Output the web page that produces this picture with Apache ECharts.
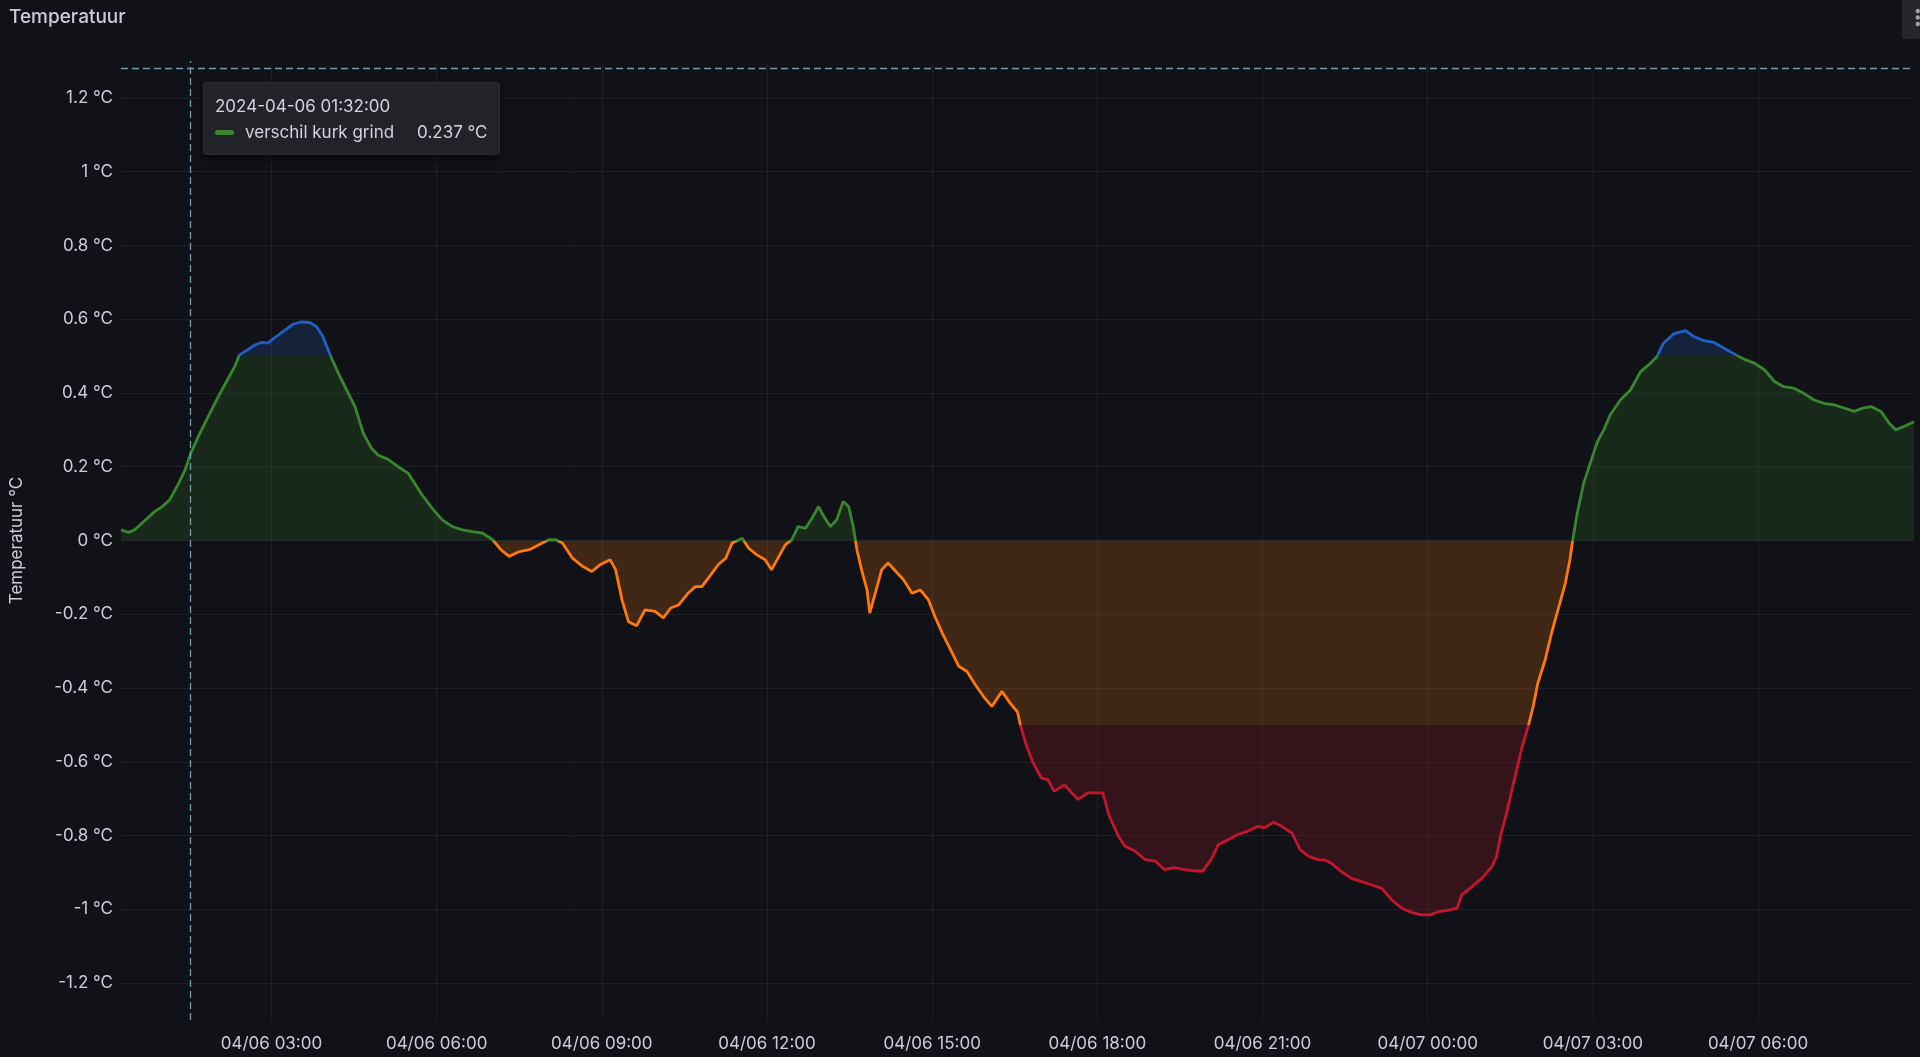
<!DOCTYPE html>
<html>
<head>
<meta charset="utf-8">
<title>Temperatuur</title>
<script src="https://cdn.jsdelivr.net/npm/echarts@6/dist/echarts.min.js"></script>
<style>
  html, body { margin: 0; padding: 0; background: #111217; }
  #container { width: 1920px; height: 1057px; }
</style>
</head>
<body>
<div id="container"></div>
<script>
var seriesName = 'verschil kurk grind';

// time stamps (local) and read-off values of the difference, °C
var times = [
    '2024-04-06 00:16', '2024-04-06 00:24', '2024-04-06 00:31', '2024-04-06 00:42', '2024-04-06 00:53',
    '2024-04-06 01:00', '2024-04-06 01:09', '2024-04-06 01:18', '2024-04-06 01:26', '2024-04-06 01:32',
    '2024-04-06 01:42', '2024-04-06 01:51', '2024-04-06 02:02', '2024-04-06 02:11', '2024-04-06 02:20',
    '2024-04-06 02:25', '2024-04-06 02:31', '2024-04-06 02:42', '2024-04-06 02:49', '2024-04-06 02:56',
    '2024-04-06 03:04', '2024-04-06 03:15', '2024-04-06 03:24', '2024-04-06 03:33', '2024-04-06 03:42',
    '2024-04-06 03:49', '2024-04-06 03:56', '2024-04-06 04:04', '2024-04-06 04:13', '2024-04-06 04:22',
    '2024-04-06 04:31', '2024-04-06 04:40', '2024-04-06 04:49', '2024-04-06 04:56', '2024-04-06 05:07',
    '2024-04-06 05:18', '2024-04-06 05:29', '2024-04-06 05:36', '2024-04-06 05:44', '2024-04-06 05:55',
    '2024-04-06 06:06', '2024-04-06 06:17', '2024-04-06 06:28', '2024-04-06 06:39', '2024-04-06 06:50',
    '2024-04-06 07:01', '2024-04-06 07:10', '2024-04-06 07:19', '2024-04-06 07:30', '2024-04-06 07:41',
    '2024-04-06 07:51', '2024-04-06 08:02', '2024-04-06 08:10', '2024-04-06 08:17', '2024-04-06 08:28',
    '2024-04-06 08:39', '2024-04-06 08:49', '2024-04-06 08:58', '2024-04-06 09:09', '2024-04-06 09:15',
    '2024-04-06 09:22', '2024-04-06 09:29', '2024-04-06 09:38', '2024-04-06 09:47', '2024-04-06 09:58',
    '2024-04-06 10:07', '2024-04-06 10:15', '2024-04-06 10:24', '2024-04-06 10:34', '2024-04-06 10:42',
    '2024-04-06 10:49', '2024-04-06 10:56', '2024-04-06 11:07', '2024-04-06 11:15', '2024-04-06 11:22',
    '2024-04-06 11:33', '2024-04-06 11:40', '2024-04-06 11:49', '2024-04-06 11:58', '2024-04-06 12:05',
    '2024-04-06 12:13', '2024-04-06 12:20', '2024-04-06 12:27', '2024-04-06 12:34', '2024-04-06 12:42',
    '2024-04-06 12:49', '2024-04-06 12:56', '2024-04-06 13:02', '2024-04-06 13:09', '2024-04-06 13:16',
    '2024-04-06 13:23', '2024-04-06 13:29', '2024-04-06 13:34', '2024-04-06 13:38', '2024-04-06 13:43',
    '2024-04-06 13:49', '2024-04-06 13:52', '2024-04-06 13:58', '2024-04-06 14:05', '2024-04-06 14:12',
    '2024-04-06 14:22', '2024-04-06 14:29', '2024-04-06 14:38', '2024-04-06 14:47', '2024-04-06 14:56',
    '2024-04-06 15:03', '2024-04-06 15:11', '2024-04-06 15:20', '2024-04-06 15:29', '2024-04-06 15:38',
    '2024-04-06 15:47', '2024-04-06 15:56', '2024-04-06 16:05', '2024-04-06 16:16', '2024-04-06 16:25',
    '2024-04-06 16:33', '2024-04-06 16:36', '2024-04-06 16:43', '2024-04-06 16:50', '2024-04-06 16:59',
    '2024-04-06 17:06', '2024-04-06 17:13', '2024-04-06 17:24', '2024-04-06 17:32', '2024-04-06 17:39',
    '2024-04-06 17:50', '2024-04-06 17:59', '2024-04-06 18:06', '2024-04-06 18:13', '2024-04-06 18:23',
    '2024-04-06 18:30', '2024-04-06 18:41', '2024-04-06 18:52', '2024-04-06 19:03', '2024-04-06 19:13',
    '2024-04-06 19:24', '2024-04-06 19:35', '2024-04-06 19:46', '2024-04-06 19:55', '2024-04-06 20:04',
    '2024-04-06 20:12', '2024-04-06 20:23', '2024-04-06 20:33', '2024-04-06 20:44', '2024-04-06 20:55',
    '2024-04-06 21:02', '2024-04-06 21:12', '2024-04-06 21:21', '2024-04-06 21:32', '2024-04-06 21:41',
    '2024-04-06 21:50', '2024-04-06 22:01', '2024-04-06 22:08', '2024-04-06 22:15', '2024-04-06 22:26',
    '2024-04-06 22:37', '2024-04-06 22:48', '2024-04-06 22:59', '2024-04-06 23:10', '2024-04-06 23:21',
    '2024-04-06 23:32', '2024-04-06 23:43', '2024-04-06 23:53', '2024-04-07 00:03', '2024-04-07 00:12',
    '2024-04-07 00:23', '2024-04-07 00:32', '2024-04-07 00:37', '2024-04-07 00:48', '2024-04-07 00:59',
    '2024-04-07 01:10', '2024-04-07 01:15', '2024-04-07 01:20', '2024-04-07 01:26', '2024-04-07 01:31',
    '2024-04-07 01:37', '2024-04-07 01:42', '2024-04-07 01:50', '2024-04-07 01:55', '2024-04-07 02:00',
    '2024-04-07 02:08', '2024-04-07 02:15', '2024-04-07 02:22', '2024-04-07 02:30', '2024-04-07 02:35',
    '2024-04-07 02:38', '2024-04-07 02:43', '2024-04-07 02:50', '2024-04-07 02:56', '2024-04-07 03:05',
    '2024-04-07 03:12', '2024-04-07 03:19', '2024-04-07 03:30', '2024-04-07 03:41', '2024-04-07 03:52',
    '2024-04-07 04:03', '2024-04-07 04:10', '2024-04-07 04:17', '2024-04-07 04:28', '2024-04-07 04:41',
    '2024-04-07 04:50', '2024-04-07 05:01', '2024-04-07 05:12', '2024-04-07 05:23', '2024-04-07 05:34',
    '2024-04-07 05:45', '2024-04-07 05:56', '2024-04-07 06:07', '2024-04-07 06:18', '2024-04-07 06:28',
    '2024-04-07 06:39', '2024-04-07 06:50', '2024-04-07 07:01', '2024-04-07 07:12', '2024-04-07 07:23',
    '2024-04-07 07:34', '2024-04-07 07:45', '2024-04-07 07:54', '2024-04-07 08:03', '2024-04-07 08:14',
    '2024-04-07 08:23', '2024-04-07 08:30', '2024-04-07 08:39', '2024-04-07 08:50'
];

var values = [
    0.029, 0.022, 0.029, 0.054, 0.079,
    0.090, 0.110, 0.151, 0.192, 0.237,
    0.291, 0.336, 0.390, 0.431, 0.472,
    0.503, 0.512, 0.530, 0.537, 0.535,
    0.551, 0.571, 0.587, 0.593, 0.591,
    0.580, 0.553, 0.503, 0.453, 0.408,
    0.363, 0.291, 0.250, 0.232, 0.220,
    0.200, 0.182, 0.155, 0.124, 0.088,
    0.056, 0.038, 0.029, 0.024, 0.020,
    0.002, -0.025, -0.043, -0.030, -0.025,
    -0.012, 0.002, 0.002, -0.007, -0.048,
    -0.070, -0.084, -0.066, -0.052, -0.079,
    -0.161, -0.220, -0.231, -0.188, -0.192,
    -0.210, -0.183, -0.174, -0.143, -0.125,
    -0.125, -0.102, -0.065, -0.048, -0.007,
    0.006, -0.021, -0.039, -0.052, -0.079,
    -0.043, -0.012, 0.002, 0.038, 0.033,
    0.060, 0.092, 0.065, 0.038, 0.056,
    0.106, 0.092, 0.038, -0.025, -0.079,
    -0.134, -0.197, -0.143, -0.079, -0.061,
    -0.088, -0.107, -0.143, -0.134, -0.161,
    -0.206, -0.251, -0.296, -0.341, -0.355,
    -0.391, -0.423, -0.450, -0.409, -0.441,
    -0.465, -0.499, -0.558, -0.603, -0.644,
    -0.648, -0.680, -0.662, -0.684, -0.702,
    -0.684, -0.684, -0.684, -0.747, -0.802,
    -0.829, -0.842, -0.865, -0.869, -0.892,
    -0.887, -0.892, -0.896, -0.896, -0.865,
    -0.824, -0.811, -0.797, -0.788, -0.775,
    -0.779, -0.764, -0.775, -0.793, -0.838,
    -0.856, -0.866, -0.866, -0.875, -0.898,
    -0.916, -0.925, -0.934, -0.943, -0.975,
    -0.997, -1.009, -1.015, -1.015, -1.006,
    -1.002, -0.997, -0.961, -0.939, -0.916,
    -0.884, -0.857, -0.794, -0.740, -0.685,
    -0.622, -0.568, -0.499, -0.450, -0.387,
    -0.324, -0.251, -0.188, -0.116, -0.052,
    0.000, 0.074, 0.155, 0.201, 0.268,
    0.300, 0.341, 0.381, 0.408, 0.458,
    0.481, 0.499, 0.535, 0.560, 0.569,
    0.553, 0.542, 0.537, 0.521, 0.506,
    0.491, 0.481, 0.463, 0.431, 0.417,
    0.413, 0.399, 0.381, 0.372, 0.368,
    0.359, 0.350, 0.359, 0.363, 0.350,
    0.318, 0.300, 0.309, 0.322
];

var xTicks = [
    '2024-04-06 03:00', '2024-04-06 06:00', '2024-04-06 09:00', '2024-04-06 12:00', '2024-04-06 15:00',
    '2024-04-06 18:00', '2024-04-06 21:00', '2024-04-07 00:00', '2024-04-07 03:00', '2024-04-07 06:00'
];
var yTicks = [-1.2, -1, -0.8, -0.6, -0.4, -0.2, 0, 0.2, 0.4, 0.6, 0.8, 1, 1.2];

// threshold colours (red base, orange from -0.5, green from 0, blue from 0.5)
var thresholds = [-0.5, 0, 0.5];
var thresholdColors = ['#C4162A', '#FF780A', '#37872D', '#1F60C4'];

function ts(s) {
    return new Date(s.replace(' ', 'T') + ':00').getTime();
}

var seriesData = times.map(function (t, i) { return [ts(t), values[i]]; });

var textColor = '#ccccdc';
var gridColor = 'rgba(204, 204, 220, 0.08)';
var font = 'Inter, "Noto Sans", sans-serif';

var myChart = echarts.init(document.getElementById('container'), null, { renderer: 'canvas' });

var option = {
    backgroundColor: '#111217',
    animation: false,
    title: {
        text: 'Temperatuur',
        left: 4,
        top: 3,
        textStyle: { color: textColor, fontSize: 19, fontWeight: 500, fontFamily: font }
    },
    grid: { left: 119, right: 6, top: 61, bottom: 37, containLabel: false },
    xAxis: {
        // timestamps on a plain value axis so the 3-hour ticks can be placed exactly
        type: 'value',
        min: ts(times[0]),
        max: ts(times[times.length - 1]),
        axisLine: { show: false },
        axisTick: { show: false, customValues: xTicks.map(ts) },
        axisLabel: {
            customValues: xTicks.map(ts),
            color: textColor,
            fontSize: 17,
            fontFamily: font,
            margin: 15,
            formatter: function (v) {
                return echarts.time.format(v, '{MM}/{dd} {HH}:{mm}', false);
            }
        },
        splitLine: { show: true, lineStyle: { color: gridColor, width: 1 } },
        axisPointer: { snap: true }
    },
    yAxis: {
        type: 'value',
        min: -1.3,
        max: 1.3,
        name: 'Temperatuur °C',
        nameLocation: 'middle',
        nameRotate: 90,
        nameGap: 96,
        nameTextStyle: { color: textColor, fontSize: 17, fontFamily: font },
        axisLine: { show: false },
        axisTick: { show: false, customValues: yTicks },
        axisLabel: {
            customValues: yTicks,
            color: textColor,
            fontSize: 17,
            fontFamily: font,
            margin: 8,
            formatter: function (v) { return (+v.toFixed(1)) + ' °C'; }
        },
        splitLine: { show: true, lineStyle: { color: gridColor, width: 1 } },
        axisPointer: { snap: false }
    },
    visualMap: {
        type: 'piecewise',
        show: false,
        dimension: 1,
        seriesIndex: 0,
        pieces: [
            { lt: thresholds[0], color: thresholdColors[0] },
            { gte: thresholds[0], lt: thresholds[1], color: thresholdColors[1] },
            { gte: thresholds[1], lt: thresholds[2], color: thresholdColors[2] },
            { gte: thresholds[2], color: thresholdColors[3] }
        ]
    },
    tooltip: {
        trigger: 'axis',
        triggerOn: 'none',
        alwaysShowContent: true,
        position: [203, 82],
        backgroundColor: '#212328',
        borderColor: '#2b2d33',
        borderWidth: 1,
        padding: [10, 11, 9, 11],
        extraCssText: 'border-radius:3px;box-shadow:0 4px 8px rgba(0,0,0,0.6);',
        textStyle: { color: textColor, fontSize: 17, fontFamily: font },
        axisPointer: {
            type: 'cross',
            label: { show: false },
            lineStyle: { color: '#6f9db0', type: [7, 4], width: 1.3 },
            crossStyle: { color: '#6f9db0', type: [7, 4], width: 1.3 }
        },
        formatter: function (params) {
            var p = params[0];
            var t = echarts.time.format(p.value[0], '{yyyy}-{MM}-{dd} {HH}:{mm}:{ss}', false);
            return '<div style="font-family:Inter;font-size:17px;line-height:26px;color:#d2d2e0">' +
                '<div>' + t + '</div>' +
                '<div style="display:flex;align-items:center">' +
                '<span style="display:inline-block;width:19px;height:5px;border-radius:3px;background:' + p.color + ';margin-right:11px"></span>' +
                '<span>' + p.seriesName + '</span>' +
                '<span style="margin-left:23px">' + p.value[1].toFixed(3) + ' °C</span>' +
                '</div></div>';
        }
    },
    graphic: [
        {
            type: 'group',
            right: 0,
            top: 0,
            children: [
                { type: 'rect', shape: { x: 0, y: 0, width: 18, height: 39, r: [0, 0, 0, 3] }, style: { fill: '#25272d' } },
                { type: 'circle', shape: { cx: 16, cy: 11, r: 2.2 }, style: { fill: '#a0a2aa' } },
                { type: 'circle', shape: { cx: 16, cy: 17.5, r: 2.2 }, style: { fill: '#a0a2aa' } },
                { type: 'circle', shape: { cx: 16, cy: 24, r: 2.2 }, style: { fill: '#a0a2aa' } }
            ]
        }
    ],
    series: [
        {
            name: seriesName,
            type: 'line',
            data: seriesData,
            showSymbol: false,
            symbol: 'none',
            lineStyle: { width: 2.8 },
            areaStyle: { opacity: 0.2 },
            emphasis: { disabled: true }
        }
    ]
};

myChart.setOption(option);

setTimeout(function () {
    myChart.dispatchAction({ type: 'showTip', x: 190, y: 68 });
}, 50);
</script>
</body>
</html>
